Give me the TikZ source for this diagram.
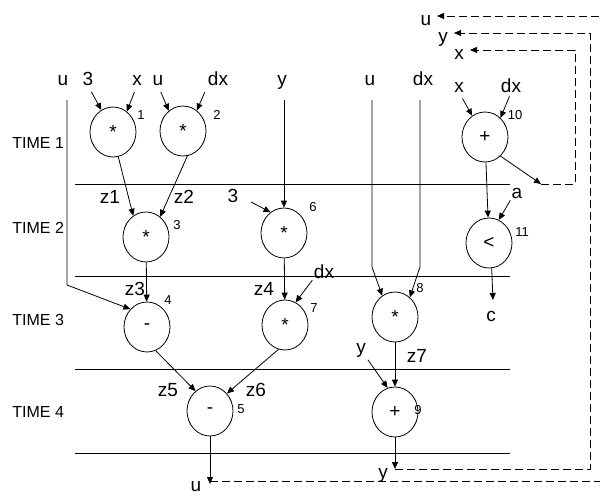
\documentclass[tikz,border=0pt]{standalone}
\usepackage{fontspec}
\setmainfont{Liberation Sans}
\usetikzlibrary{shapes.geometric,arrows.meta}
\begin{document}
\begin{tikzpicture}[x=1pt,y=-1pt,line width=0.8pt,
  op/.style={ellipse,draw,minimum width=46pt,minimum height=50pt,inner sep=0pt,font=\fontsize{19}{19}\selectfont},
  lbl/.style={inner sep=0pt,anchor=base,font=\fontsize{19}{19}\selectfont},
  num/.style={inner sep=0pt,font=\fontsize{13}{13}\selectfont},
  tim/.style={inner sep=0pt,anchor=base west,font=\fontsize{16}{16}\selectfont},
  arr/.style={-{Triangle[length=7pt,width=6pt]}},
  dsh/.style={dash pattern=on 8pt off 4pt}]
\useasboundingbox (0,0) rectangle (600,496);

% time labels
\node[tim] (t1) at (12,148) {TIME 1};
\node[tim] (t2) at (12,233) {TIME 2};
\node[tim] (t3) at (12,325) {TIME 3};
\node[tim] (t4) at (12,417) {TIME 4};

% separators
\draw (75,184) -- (510,184);
\draw (75,276) -- (510,276);
\draw (75,369) -- (510,369);
\draw (75,453) -- (510,453);

% operation nodes
\node[op] (n1) at (113,132) {\raisebox{-5pt}{*}};
\node[op] (n2) at (183,131) {\raisebox{-5pt}{*}};
\node[op] (n3) at (146,237) {\raisebox{-5pt}{*}};
\node[op] (n6) at (284,233) {\raisebox{-5pt}{*}};
\node[op] (n4) at (147,327) {\raisebox{-3pt}{-}};
\node[op] (n7) at (285,325) {\raisebox{-5pt}{*}};
\node[op] (n8) at (395,317) {\raisebox{-5pt}{*}};
\node[op] (n5) at (210,411) {\raisebox{-3pt}{-}};
\node[op] (n9) at (395,412) {+};
\node[op] (n10) at (485,137) {+};
\node[op] (n11) at (489,243) {<};

% node numbers
\node[num] (k1) at (141,115) {1};
\node[num] (k2) at (217,115) {2};
\node[num] (k3) at (177,225) {3};
\node[num] (k6) at (313,207) {6};
\node[num] (k4) at (168,300) {4};
\node[num] (k7) at (314,308) {7};
\node[num] (k8) at (420,288) {8};
\node[num] (k5) at (241,409) {5};
\node[num] (k9) at (418,410) {9};
\node[num] (k10) at (515,115) {10};
\node[num] (k11) at (522,232) {11};

% variable labels
\node[lbl] (lu1) at (63,85) {u};
\node[lbl] (l31) at (88,85) {3};
\node[lbl] (lx1) at (137,85) {x};
\node[lbl] (lu2) at (158,85) {u};
\node[lbl] (ldx1) at (218,85) {dx};
\node[lbl] (ly1) at (282,85) {y};
\node[lbl] (lu3) at (370,85) {u};
\node[lbl] (ldx2) at (423,85) {dx};
\node[lbl] (lx2) at (459,92) {x};
\node[lbl] (ldx3) at (511,92) {dx};
\node[lbl] (luf) at (426,25) {u};
\node[lbl] (lyf) at (443,42) {y};
\node[lbl] (lxf) at (459,59) {x};
\node[lbl] (z1) at (110,203) {z1};
\node[lbl] (z2) at (184,203) {z2};
\node[lbl] (l32) at (233,202) {3};
\node[lbl] (z3) at (135,295) {z3};
\node[lbl] (z4) at (264,295) {z4};
\node[lbl] (ldx4) at (324,278) {dx};
\node[lbl] (z5) at (168,396) {z5};
\node[lbl] (z6) at (256,396) {z6};
\node[lbl] (lub) at (196,491) {u};
\node[lbl] (lyb) at (383,478) {y};
\node[lbl] (ly9) at (361,353) {y};
\node[lbl] (z7) at (417,362) {z7};
\node[lbl] (lc) at (491,321) {c};
\node[lbl] (la) at (517,198) {a};

% free ends
\coordinate (su1) at (67,100);
\coordinate (bu1) at (67,285);
\coordinate (sy1) at (284,100);
\coordinate (su3) at (372,100);
\coordinate (bu3) at (372,267);
\coordinate (sdx2) at (420,100);
\coordinate (bdx2) at (420,267);
\coordinate (ou) at (210,484);
\coordinate (oy) at (395,469);
\coordinate (oc) at (493,300);
\coordinate (ox) at (541,184);
\coordinate (tu) at (437,16);
\coordinate (ty) at (454,33);
\coordinate (tx) at (470,50);

% time 1
\draw[arr,shorten <=7pt] (l31.south) -- (n1.118);
\draw[arr,shorten <=7pt] (lx1.south) -- (n1.56);
\draw[arr,shorten <=7pt] (lu2.south) -- (n2.125);
\draw[arr,shorten <=7pt] (ldx1.south west) -- (n2.56);
\draw[arr,shorten <=7pt] (lx2.south) -- (n10.121);
\draw[arr,shorten <=4pt] (ldx3.south) -- (n10.51);
% time 2
\draw[arr] (n1.-78) -- (n3.121);
\draw[arr] (n2.-80) -- (n3.55);
\draw[arr] (sy1) -- (n6.north);
\draw[arr,shorten <=14pt] (l32.east) -- (n6.123);
\draw[arr] (n10) -- (n11);
\draw[arr] (n10.-51) -- (ox);
\draw[arr,shorten <=2pt] (la.south west) -- (n11.67);
% time 3
\draw[arr] (n6) -- (n7);
\draw[arr,shorten <=2pt] (ldx4.south west) -- (n7.65);
\draw[arr] (n3) -- (n4);
\draw[arr] (su1) -- (bu1) -- (n4.133);
\draw[arr] (su3) -- (bu3) -- (n8.121);
\draw[arr] (sdx2) -- (bdx2) -- (n8.53);
\draw[arr] (n11.-84) -- (oc);
% time 4
\draw[arr] (n4.-70) -- (n5.126);
\draw[arr] (n7.-105) -- (n5.46);
\draw[arr] (n8) -- (n9);
\draw[arr,shorten <=3pt] (ly9.south east) -- (n9.107);
\draw[arr] (n5) -- (ou);
\draw[arr] (n9) -- (oy);

% feedback loops
\draw[dsh,arr] (ox) -- ++(34,0) |- (tx);
\draw[dsh,arr] (oy) -- ++(195,0) |- (ty);
\draw[dsh,arr] ([yshift=3pt]ou) -- ++(400,0) |- (tu);
\end{tikzpicture}
\end{document}
